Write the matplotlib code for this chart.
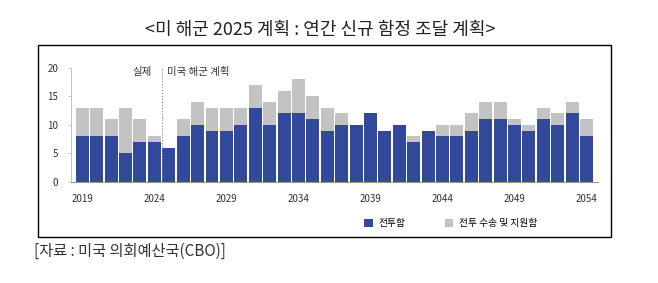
import matplotlib
matplotlib.use("Agg")
import matplotlib.pyplot as plt
from matplotlib.patches import Rectangle

plt.rcParams["font.family"] = ["Noto Sans CJK KR", "DejaVu Sans"]

# data
years = list(range(2019, 2055))
combat = [8, 8, 8, 5, 7, 7, 6, 8, 10, 9, 9, 10, 13, 10, 12, 12, 11, 9,
          10, 10, 12, 9, 10, 7, 9, 8, 8, 9, 11, 11, 10, 9, 11, 10, 12, 8]
total = [13, 13, 11, 13, 11, 8, 6, 11, 14, 13, 13, 13, 17, 14, 16, 18, 15, 13,
         12, 10, 12, 9, 10, 8, 9, 10, 10, 12, 14, 14, 11, 10, 13, 12, 14, 11]
support = [t - c for t, c in zip(total, combat)]
tick_years = [2019, 2024, 2029, 2034, 2039, 2044, 2049, 2054]
yticks = [0, 5, 10, 15, 20]

NAVY = "#32489a"
GREY = "#c3c3c3"

fig = plt.figure(figsize=(6.58, 2.83), dpi=100)
fig.patch.set_facecolor("white")

# outer frame
fig.patches.append(Rectangle((0.0578, 0.1625), 0.871, 0.678, transform=fig.transFigure,
                             fill=False, edgecolor="black", linewidth=1.0))

fig.text(0.486, 0.894, "<미 해군 2025 계획 : 연간 신규 함정 조달 계획>",
         ha="center", va="center", fontsize=13, color="#222222")
fig.text(0.052, 0.111, "[자료 : 미국 의회예산국(CBO)]", ha="left", va="center",
         fontsize=11, color="#333333")

ax = fig.add_axes([0.1074, 0.357, 0.8014, 0.404])
ax.bar(years, combat, width=0.9, color=NAVY, label="전투함", zorder=3)
ax.bar(years, support, bottom=combat, width=0.9, color=GREY,
       label="전투 수송 및 지원함", zorder=3)

ax.set_xlim(years[0] - 0.81, years[-1] + 0.79)
ax.set_ylim(0, 20)
ax.set_yticks(yticks)
ax.set_xticks(tick_years)
ax.tick_params(axis="both", labelsize=7, colors="#333333")
ax.tick_params(axis="x", length=0, pad=9)
ax.tick_params(axis="y", length=2, width=0.6, color="#bbbbbb", pad=7)
for s in ["top", "right"]:
    ax.spines[s].set_visible(False)
ax.spines["left"].set_color("#bbbbbb")
ax.spines["left"].set_linewidth(0.6)
ax.spines["bottom"].set_color("#999999")
ax.spines["bottom"].set_linewidth(0.8)

ax.axvline(2024.5, ymin=0, ymax=1, color="#888888", linestyle=":", linewidth=0.8, zorder=4)
ax.text(2023.8, 19.3, "실제", ha="right", va="center", fontsize=7.5, color="#333333")
ax.text(2024.9, 19.3, "미국 해군 계획", ha="left", va="center", fontsize=7.5, color="#333333")

ax.legend(loc="upper left", bbox_to_anchor=(0.54, -0.24), ncol=2, frameon=False,
          fontsize=7, handlelength=0.9, handleheight=0.9, columnspacing=4.0,
          handletextpad=0.6)

fig.savefig("out.png", dpi=100)
